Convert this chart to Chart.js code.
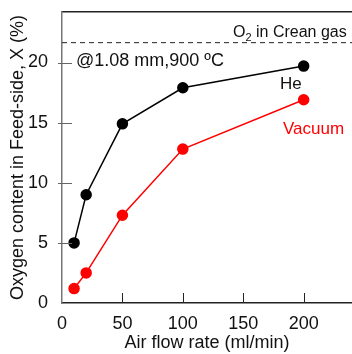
<!DOCTYPE html>
<html>
<head>
<meta charset="utf-8">
<script src="https://cdn.jsdelivr.net/npm/chart.js@4.4.1/dist/chart.umd.min.js"></script>
<style>
  html, body { margin: 0; padding: 0; background: #fff; }
  #wrap { width: 352px; height: 354px; }
</style>
</head>
<body>
<div id="wrap"><canvas id="mychart" width="352" height="354"></canvas></div>
<script>
// air flow rates on the x-axis
var flowRates = [10, 20, 50, 100, 200];
// oxygen content, He sweep and vacuum
var heValues = [5.0, 9.0, 14.9, 17.9, 19.7];
var vacuumValues = [1.2, 2.5, 7.3, 12.8, 16.9];
// O2 level of the clean gas (dashed line)
var o2Level = 21.65;
var xTicks = [0, 50, 100, 150, 200];
var yTicks = [0, 5, 10, 15, 20];

var font = "'Liberation Sans', Arial, sans-serif";

function pts(vals) {
  return flowRates.map(function (x, i) { return { x: x, y: vals[i] }; });
}

// short inward tick marks + text labels
var decor = {
  id: 'decor',
  afterDraw: function (chart) {
    var c = chart.ctx, a = chart.chartArea;
    var sx = chart.scales.x, sy = chart.scales.y;
    c.save();
    c.strokeStyle = '#222';
    c.lineWidth = 1;
    xTicks.forEach(function (v) {
      if (v === 0) return;
      var px = Math.round(sx.getPixelForValue(v)) + 0.5;
      c.beginPath(); c.moveTo(px, a.bottom); c.lineTo(px, a.bottom - 10); c.stroke();
    });
    c.strokeStyle = '#666';
    yTicks.forEach(function (v) {
      if (v === 0) return;
      var py = Math.round(sy.getPixelForValue(v)) + 0.5;
      c.beginPath(); c.moveTo(a.left - 4, py); c.lineTo(a.left + 10, py); c.stroke();
    });

    c.textBaseline = 'alphabetic';
    c.textAlign = 'left';
    c.fillStyle = '#111';
    c.font = '16px ' + font;
    c.fillText('O', 233, 37);
    var w = c.measureText('O').width;
    c.font = '11px ' + font;
    c.fillText('2', 233 + w, 41);
    var w2 = c.measureText('2').width;
    c.font = '16px ' + font;
    c.fillText(' in Crean gas', 233 + w + w2, 37);

    c.font = '18px ' + font;
    c.fillText('@1.08 mm,900 \u00BAC', 76, 66);
    c.font = '17px ' + font;
    c.fillText('He', 280, 89);
    c.fillStyle = '#ff0000';
    c.fillText('Vacuum', 283, 134);
    c.restore();
  }
};

var ctx = document.getElementById('mychart');
var myChart = new Chart(ctx, {
  type: 'scatter',
  data: {
    datasets: [
      {
        label: 'He',
        data: pts(heValues),
        showLine: true,
        borderColor: '#000',
        backgroundColor: '#000',
        borderWidth: 1.5,
        pointRadius: 5,
        pointHoverRadius: 5
      },
      {
        label: 'Vacuum',
        data: pts(vacuumValues),
        showLine: true,
        borderColor: '#ff0000',
        backgroundColor: '#ff0000',
        borderWidth: 1.5,
        pointRadius: 5,
        pointHoverRadius: 5
      },
      {
        label: 'O2',
        data: [{ x: 0, y: o2Level }, { x: 240, y: o2Level }],
        showLine: true,
        borderColor: '#222',
        borderWidth: 1,
        borderDash: [5, 4],
        pointRadius: 0
      }
    ]
  },
  options: {
    responsive: false,
    animation: false,
    events: [],
    layout: { padding: 0, autoPadding: false },
    plugins: { legend: { display: false }, tooltip: { enabled: false } },
    scales: {
      x: {
        type: 'linear',
        min: 0,
        max: 240,
        afterBuildTicks: function (s) { s.ticks = xTicks.map(function (v) { return { value: v }; }); },
        afterFit: function (s) { s.height = 51; s.paddingLeft = 0; s.paddingRight = 0; },
        grid: { display: false },
        border: { display: true, color: '#222', width: 1.5 },
        ticks: { color: '#111', font: { family: font, size: 18 }, padding: 2, maxRotation: 0 },
        title: { display: true, text: 'Air flow rate (ml/min)', color: '#111',
                 font: { family: font, size: 18 }, padding: { top: 0, bottom: 0 } }
      },
      x2: {
        type: 'linear',
        position: 'top',
        min: 0,
        max: 240,
        afterFit: function (s) { s.height = 12; s.paddingLeft = 0; s.paddingRight = 0; },
        grid: { display: false },
        border: { display: true, color: '#222', width: 1.5 },
        ticks: { display: false }
      },
      y: {
        min: 0,
        max: 24.2,
        afterBuildTicks: function (s) { s.ticks = yTicks.map(function (v) { return { value: v }; }); },
        afterFit: function (s) { s.width = 62; s.paddingTop = 0; s.paddingBottom = 0; },
        grid: { display: false },
        border: { display: true, color: '#777', width: 1.5 },
        ticks: { color: '#111', font: { family: font, size: 18 }, padding: 6 },
        title: { display: true, text: 'Oxygen content in Feed-side, X (%)', color: '#111',
                 font: { family: font, size: 18 }, padding: { top: 7, bottom: 0 } }
      }
    }
  },
  plugins: [decor]
});
</script>
</body>
</html>
